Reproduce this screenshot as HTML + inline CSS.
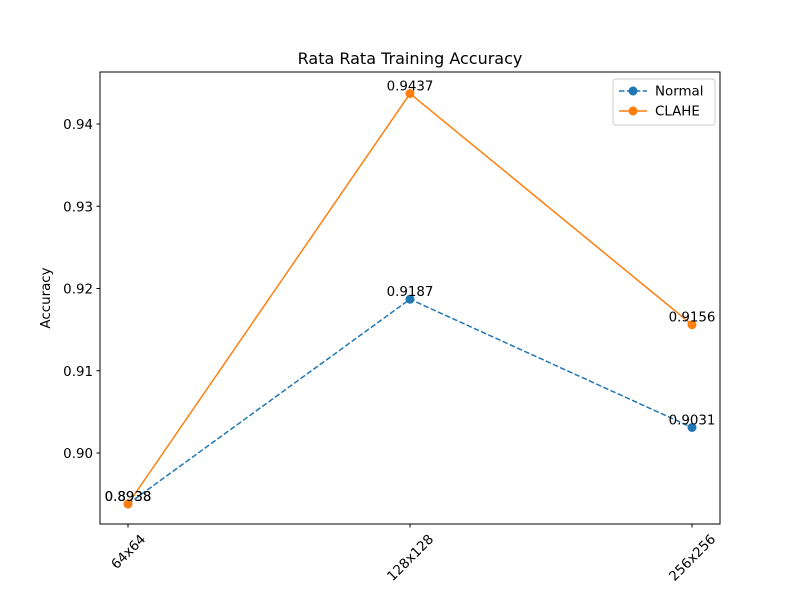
<!DOCTYPE html>
<html><head><meta charset="utf-8"><style>
body{margin:0;background:#fff}
svg{font-family:"DejaVu Sans","Liberation Sans",sans-serif}
</style></head><body>
<svg id="chart" width="800" height="600">
<rect width="800" height="600" fill="#fff"/>
<text x="410" y="64" font-size="16" text-anchor="middle">Rata Rata Training Accuracy</text>
<text transform="translate(50,298) rotate(-90)" font-size="13.4" text-anchor="middle">Accuracy</text>
<g id="axes"></g>
<g id="series"></g>
<rect x="100" y="72" width="620" height="452" fill="none" stroke="#000" stroke-width="1"/>
<g>
<rect x="613" y="79" width="102" height="46" rx="3" fill="#fff" stroke="#ccc"/>
<g>
<line x1="619" y1="91" x2="647" y2="91" stroke="#1f77b4" stroke-width="1.5" stroke-dasharray="5.5,2.4"/>
<circle cx="633" cy="91" r="4.5" fill="#1f77b4"/>
<text x="655" y="95.5" font-size="13.4">Normal</text></g>
<g>
<line x1="619" y1="111" x2="647" y2="111" stroke="#ff7f0e" stroke-width="1.5"/>
<circle cx="633" cy="111" r="4.5" fill="#ff7f0e"/>
<text x="655" y="115.5" font-size="13.4">CLAHE</text></g>
</g>
</svg>
<script>
const categories=["64x64","128x128","256x256"];
const normalValues=[0.8938,0.9187,0.9031];
const claheValues=[0.8938,0.9437,0.9156];
const yTicks=[0.90,0.91,0.92,0.93,0.94];
const ns="http://www.w3.org/2000/svg";
function xs(i){return 128+i*282;}
function ys(v){return 453-(v-0.90)*8225;}
function mk(t,a,p){const e=document.createElementNS(ns,t);for(const k in a)e.setAttribute(k,a[k]);p.appendChild(e);return e;}
const ax=document.getElementById('axes'),se=document.getElementById('series');
yTicks.forEach(v=>{const y=ys(v);
 const l=mk('line',{x1:96.5,x2:100,y1:y,y2:y,stroke:'#000'},ax);
 
 
 const t=mk('text',{x:93,y:y+5,'font-size':13.4,'text-anchor':'end'},ax);t.textContent=v.toFixed(2);
 
 });
categories.forEach((c,i)=>{const x=xs(i);
 const l=mk('line',{x1:x,x2:x,y1:524,y2:527.5,stroke:'#000'},ax);
 
 
 const t=mk('text',{'font-size':13.4,'text-anchor':'middle',dy:'0.36em'},ax);t.textContent=c;
 
 
 const w=t.getComputedTextLength();const cy=532+(w+13)*0.7071/2;
 t.setAttribute('transform',`translate(${x},${cy}) rotate(-45)`);});
function series(vals,color,dash,name){
 const p=mk('polyline',{points:vals.map((v,i)=>xs(i)+','+ys(v)).join(' '),fill:'none',stroke:color,'stroke-width':1.5},se);
 if(dash)p.setAttribute('stroke-dasharray','5.5,2.4');
 
 
 vals.forEach((v,i)=>{const c=mk('circle',{cx:xs(i),cy:ys(v),r:4.5,fill:color},se);
  
  
  const t=mk('text',{x:xs(i),y:ys(v)-3,'font-size':13.4,'text-anchor':'middle'},se);t.textContent=v.toFixed(4);
  
  });
}
series(normalValues,'#1f77b4',true,'normal');
series(claheValues,'#ff7f0e',false,'clahe');
</script>
</body></html>
